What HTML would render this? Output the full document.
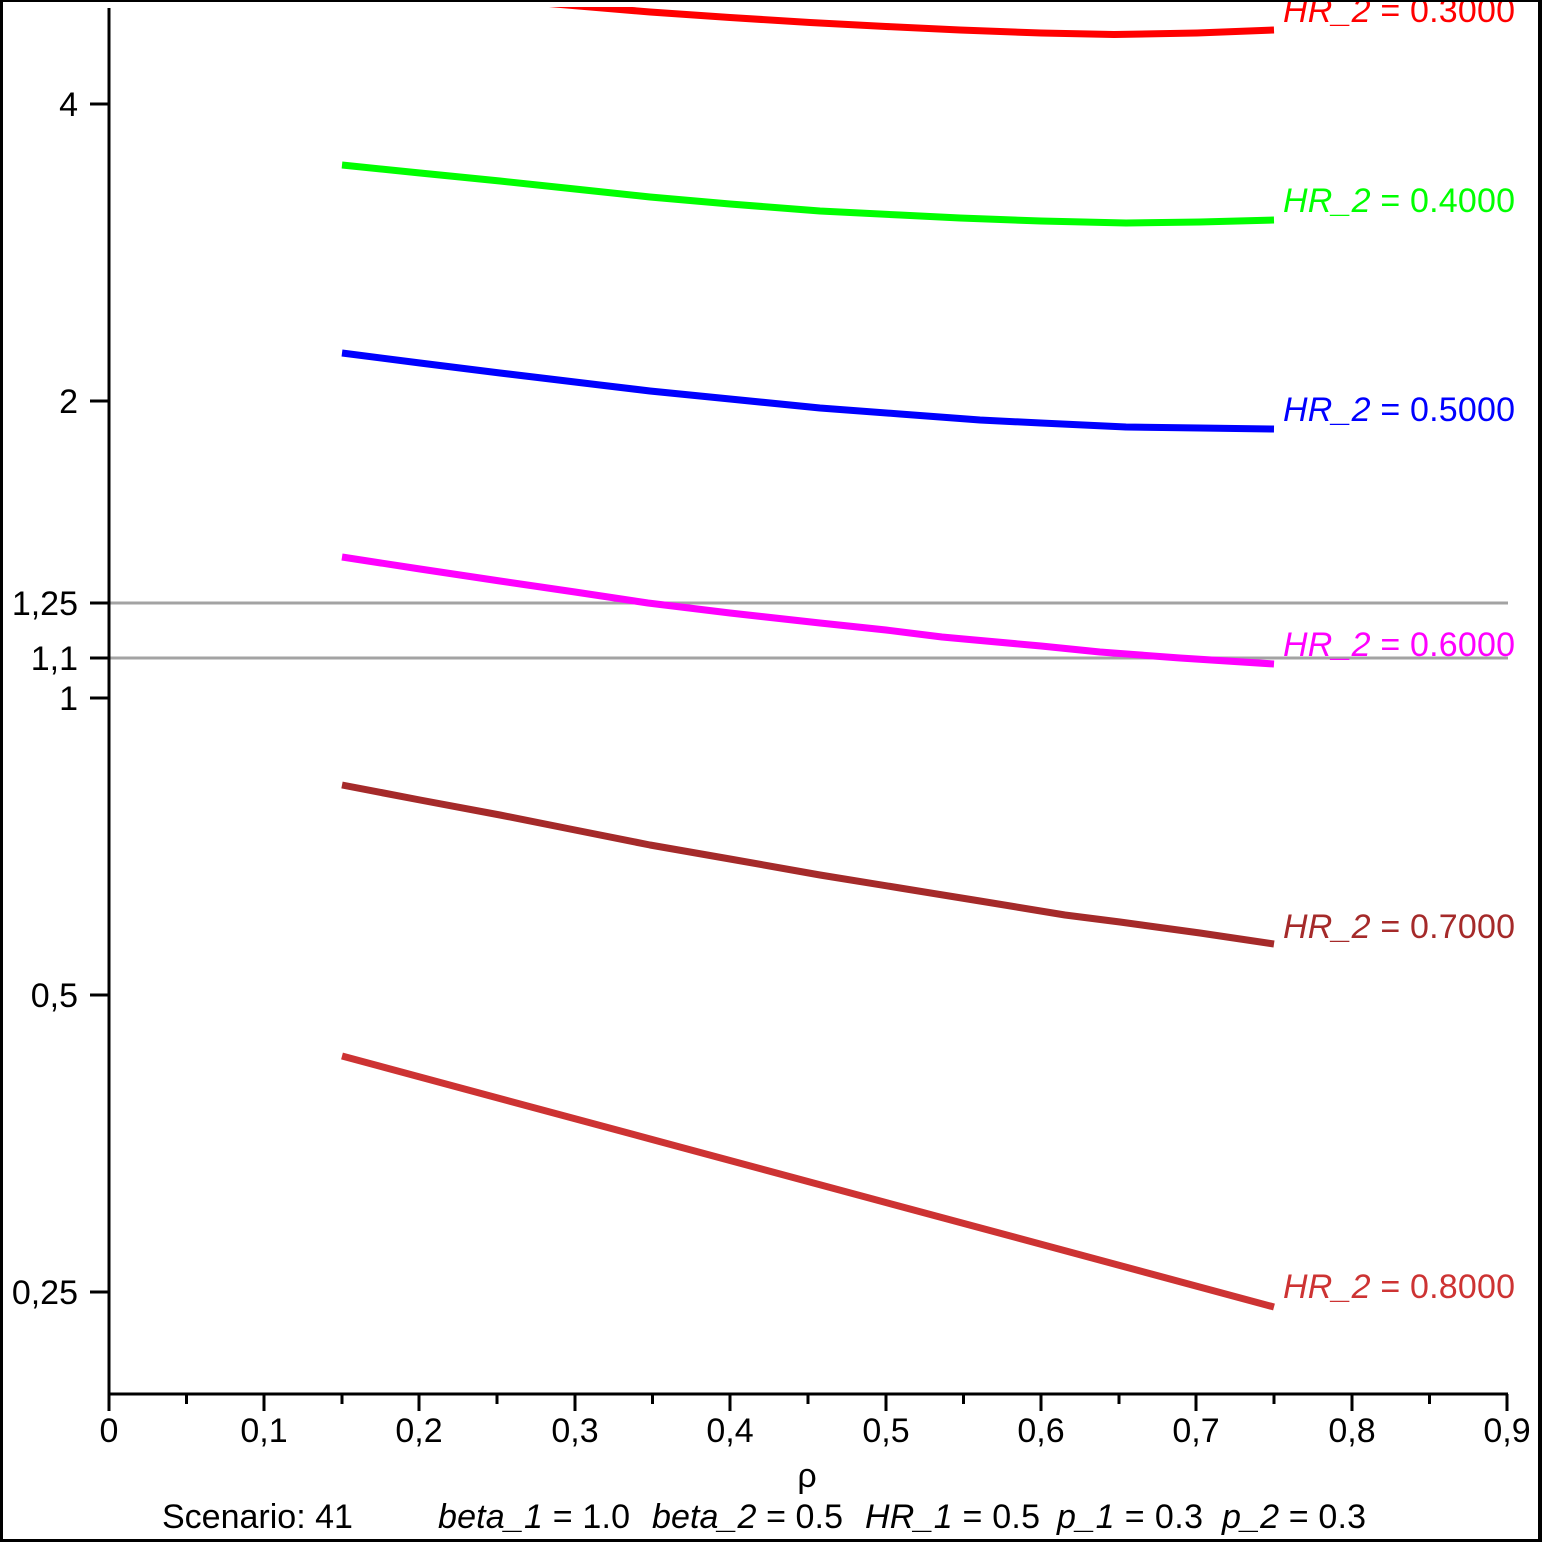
<!DOCTYPE html>
<html>
<head>
<meta charset="utf-8">
<style>
  html, body { margin: 0; padding: 0; background: #fff; }
  svg { display: block; }
  text { font-family: "Liberation Sans", Arial, sans-serif; }
</style>
</head>
<body>
<svg width="1542" height="1542" viewBox="0 0 1542 1542" xmlns="http://www.w3.org/2000/svg">
  <defs>
    <clipPath id="plotclip">
      <rect x="109" y="7" width="1420" height="1390"/>
    </clipPath>
  </defs>
  <rect x="0" y="0" width="1542" height="1542" fill="#fff"/>

  <!-- reference lines -->
  <line x1="109" y1="603" x2="1508" y2="603" stroke="#A3A3A3" stroke-width="3"/>
  <line x1="109" y1="658" x2="1508" y2="658" stroke="#A3A3A3" stroke-width="3"/>

  <!-- curves -->
  <g clip-path="url(#plotclip)" fill="none" stroke-width="7" stroke-linejoin="round">
    <polyline stroke="#FF0000" points="460,-4 555,4 650,12 730,17.5 810,22.5 886,26.5 960,30 1041,33 1114,34.5 1197,33 1274,30"/>
    <polyline stroke="#00FF00" points="342,165 420,173 500,181 575,189 650,197 730,204 820,211 900,215 960,218 1041,221 1126,223 1200,222 1274,220"/>
    <polyline stroke="#0000FF" points="342,353 420,363 500,373 575,382 650,391 730,399 820,408 900,414 980,420 1041,423 1126,427 1200,428 1274,429"/>
    <polyline stroke="#FF00FF" points="342,557 420,569 500,581 575,592 648,603 730,613 820,623 886,630 942,637 1041,646 1100,652 1180,658 1274,664"/>
    <polyline stroke="#A52A2A" points="342,785 420,800 500,815 575,830 650,845 730,859 820,875 900,888 980,901 1065,915 1120,922 1200,933 1274,944"/>
    <polyline stroke="#CD3333" points="342,1056 1274,1307"/>
  </g>

  <!-- axes -->
  <g stroke="#000" stroke-width="3" fill="none">
    <line x1="109" y1="8" x2="109" y2="1395"/>
    <line x1="107.5" y1="1394" x2="1508" y2="1394"/>
    <!-- y ticks -->
    <line x1="90" y1="104" x2="109" y2="104"/>
    <line x1="90" y1="401" x2="109" y2="401"/>
    <line x1="90" y1="603" x2="109" y2="603"/>
    <line x1="90" y1="658" x2="109" y2="658"/>
    <line x1="90" y1="698" x2="109" y2="698"/>
    <line x1="90" y1="995" x2="109" y2="995"/>
    <line x1="90" y1="1292" x2="109" y2="1292"/>
    <!-- x major ticks -->
    <line x1="109" y1="1394" x2="109" y2="1411"/>
    <line x1="264" y1="1394" x2="264" y2="1411"/>
    <line x1="419" y1="1394" x2="419" y2="1411"/>
    <line x1="575" y1="1394" x2="575" y2="1411"/>
    <line x1="730" y1="1394" x2="730" y2="1411"/>
    <line x1="886" y1="1394" x2="886" y2="1411"/>
    <line x1="1041" y1="1394" x2="1041" y2="1411"/>
    <line x1="1196" y1="1394" x2="1196" y2="1411"/>
    <line x1="1352" y1="1394" x2="1352" y2="1411"/>
    <line x1="1507" y1="1394" x2="1507" y2="1411"/>
    <!-- x minor ticks -->
    <line x1="186.5" y1="1394" x2="186.5" y2="1404"/>
    <line x1="342" y1="1394" x2="342" y2="1404"/>
    <line x1="497" y1="1394" x2="497" y2="1404"/>
    <line x1="652.5" y1="1394" x2="652.5" y2="1404"/>
    <line x1="808" y1="1394" x2="808" y2="1404"/>
    <line x1="963.5" y1="1394" x2="963.5" y2="1404"/>
    <line x1="1119" y1="1394" x2="1119" y2="1404"/>
    <line x1="1274" y1="1394" x2="1274" y2="1404"/>
    <line x1="1429.5" y1="1394" x2="1429.5" y2="1404"/>
  </g>

  <!-- y tick labels -->
  <g font-size="34" fill="#000" text-anchor="end">
    <text x="78" y="116">4</text>
    <text x="78" y="413">2</text>
    <text x="78" y="615">1,25</text>
    <text x="78" y="670">1,1</text>
    <text x="78" y="710">1</text>
    <text x="78" y="1007">0,5</text>
    <text x="78" y="1304">0,25</text>
  </g>

  <!-- x tick labels -->
  <g font-size="34" fill="#000" text-anchor="middle">
    <text x="109" y="1442">0</text>
    <text x="264" y="1442">0,1</text>
    <text x="419" y="1442">0,2</text>
    <text x="575" y="1442">0,3</text>
    <text x="730" y="1442">0,4</text>
    <text x="886" y="1442">0,5</text>
    <text x="1041" y="1442">0,6</text>
    <text x="1196" y="1442">0,7</text>
    <text x="1352" y="1442">0,8</text>
    <text x="1507" y="1442">0,9</text>
    <text x="807" y="1487">ρ</text>
  </g>

  <!-- curve labels -->
  <g font-size="34">
    <text x="1283" y="22" fill="#FF0000" textLength="232" lengthAdjust="spacing"><tspan font-style="italic">HR_2</tspan> = 0.3000</text>
    <text x="1283" y="212" fill="#00FF00" textLength="232" lengthAdjust="spacing"><tspan font-style="italic">HR_2</tspan> = 0.4000</text>
    <text x="1283" y="421" fill="#0000FF" textLength="232" lengthAdjust="spacing"><tspan font-style="italic">HR_2</tspan> = 0.5000</text>
    <text x="1283" y="656" fill="#FF00FF" textLength="232" lengthAdjust="spacing"><tspan font-style="italic">HR_2</tspan> = 0.6000</text>
    <text x="1283" y="938" fill="#A52A2A" textLength="232" lengthAdjust="spacing"><tspan font-style="italic">HR_2</tspan> = 0.7000</text>
    <text x="1283" y="1298" fill="#CD3333" textLength="232" lengthAdjust="spacing"><tspan font-style="italic">HR_2</tspan> = 0.8000</text>
  </g>

  <!-- footer -->
  <g font-size="34" fill="#000">
    <text x="162" y="1528">Scenario: 41</text>
    <text x="438" y="1528" textLength="192" lengthAdjust="spacing"><tspan font-style="italic">beta_1</tspan> = 1.0</text>
    <text x="652" y="1528" textLength="191" lengthAdjust="spacing"><tspan font-style="italic">beta_2</tspan> = 0.5</text>
    <text x="865" y="1528" textLength="175" lengthAdjust="spacing"><tspan font-style="italic">HR_1</tspan> = 0.5</text>
    <text x="1057" y="1528" textLength="146" lengthAdjust="spacing"><tspan font-style="italic">p_1</tspan> = 0.3</text>
    <text x="1222" y="1528" textLength="144" lengthAdjust="spacing"><tspan font-style="italic">p_2</tspan> = 0.3</text>
  </g>

  <!-- outer border -->
  <rect x="0" y="0" width="1542" height="2" fill="#000"/>
  <rect x="0" y="1539" width="1542" height="3" fill="#000"/>
  <rect x="0" y="0" width="3" height="1542" fill="#000"/>
  <rect x="1538" y="0" width="4" height="1542" fill="#000"/>
</svg>
</body>
</html>
